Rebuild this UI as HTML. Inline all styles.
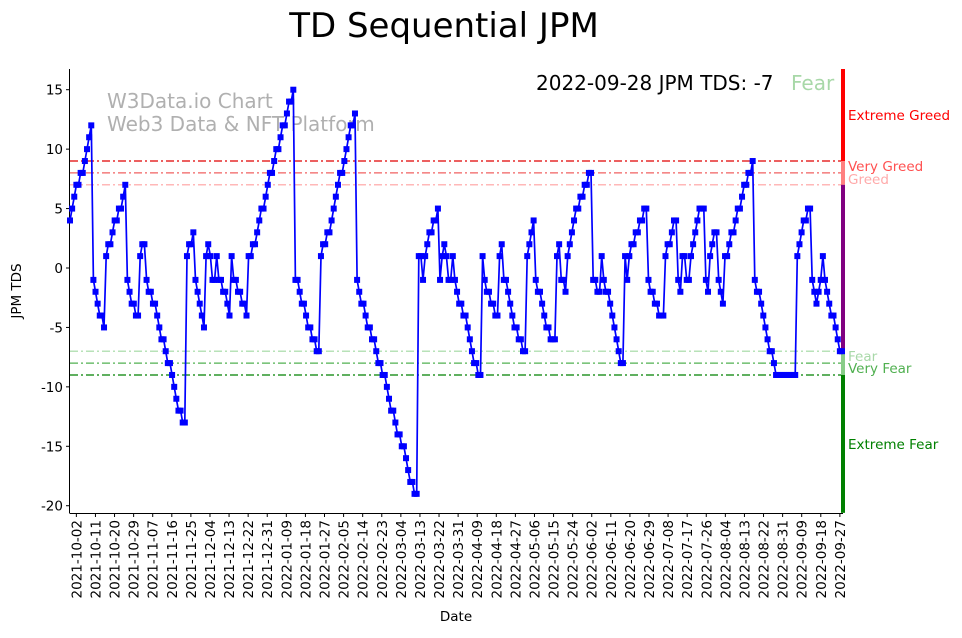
<!DOCTYPE html>
<html><head><meta charset="utf-8"><style>
body{margin:0;background:#fff;font-family:"Liberation Sans","DejaVu Sans",sans-serif;}
svg text{font-family:"DejaVu Sans","Liberation Sans",sans-serif;}
</style></head><body>
<svg id="chart" width="962" height="633" xmlns="http://www.w3.org/2000/svg"></svg>
<script>
const startDate = "2021-09-29";
const endDate = "2022-09-28";
const tdValues = [4,5,6,7,7,8,8,9,10,11,12,
-1,-2,-3,-4,-4,-5,
1,2,2,3,4,4,5,5,6,7,
-1,-2,-3,-3,-4,-4,
1,2,2,-1,-2,-2,-3,-3,-4,-5,-6,-6,-7,-8,-8,-9,-10,-11,-12,-12,-13,-13,
1,2,2,3,
-1,-2,-3,-4,-5,
1,2,1,-1,-1,1,-1,-1,-2,-2,-3,-4,
1,-1,-1,-2,-2,-3,-3,-4,
1,1,2,2,3,4,5,5,6,7,8,8,9,10,10,11,12,12,13,14,14,15,
-1,-1,-2,-3,-3,-4,-5,-5,-6,-6,-7,-7,
1,2,2,3,3,4,5,6,7,8,8,9,10,11,12,12,13,
-1,-2,-3,-3,-4,-5,-5,-6,-6,-7,-8,-8,-9,-9,-10,-11,-12,-12,-13,-14,-14,-15,-15,-16,-17,-18,-18,-19,-19,
1,1,-1,1,2,3,3,4,4,5,
-1,1,2,1,-1,-1,1,-1,-2,-3,-3,-4,-4,-5,-6,-7,-8,-8,-9,-9,
1,-1,-2,-2,-3,-3,-4,-4,
1,2,-1,-1,-2,-3,-4,-5,-5,-6,-6,-7,-7,
1,2,3,4,
-1,-2,-2,-3,-4,-5,-5,-6,-6,-6,
1,2,-1,-1,-2,
1,2,3,4,5,5,6,6,7,7,8,8,
-1,-1,-2,-2,1,-1,-2,-2,-3,-4,-5,-6,-7,-8,-8,
1,-1,1,2,2,3,3,4,4,5,5,
-1,-2,-2,-3,-3,-4,-4,-4,
1,2,2,3,4,4,
-1,-2,1,1,-1,-1,1,2,3,4,5,5,5,
-1,-2,1,2,3,3,
-1,-2,-3,1,1,2,3,3,4,5,5,6,7,7,8,8,9,
-1,-2,-2,-3,-4,-5,-6,-7,-7,-8,-9,-9,-9,-9,-9,-9,-9,-9,-9,-9,
1,2,3,4,4,5,5,
-1,-2,-3,-2,-1,1,-1,-2,-3,-4,-4,-5,-6,-7,-7];
const yTicks = [-20,-15,-10,-5,0,5,10,15];
const levelValues = [9,8,7,-7,-8,-9];

const NS="http://www.w3.org/2000/svg";
const svg=document.getElementById('chart');
const L=70,R=843,T=69,B=513;
const dayMs=86400000;
const d0=Date.parse(startDate), d1=Date.parse(endDate);
const nDays=(d1-d0)/dayMs;
function xDay(d){return L+(d/nDays)*(R-L-1);}
function xIdx(i){return xDay(i*nDays/(tdValues.length-1));}
function y(v){return 268-11.886*v;}
function el(t,a,p){const e=document.createElementNS(NS,t);for(const k in a)e.setAttribute(k,a[k]);(p||svg).appendChild(e);return e;}

let t=el('text',{x:444,y:37,'font-size':34,'text-anchor':'middle',fill:'#000'});t.textContent='TD Sequential JPM';



let w=el('text',{x:107,y:108,'font-size':20,fill:'#b0b0b0'});w.textContent='W3Data.io Chart';


w=el('text',{x:107,y:131,'font-size':20,fill:'#b0b0b0'});w.textContent='Web3 Data & NFT Platform';



const lvColors=['#e00000','#f06060','#ffa0a0','#a0d8a0','#50b050','#008000'];
levelValues.forEach((v,i)=>{
  const ln=el('line',{x1:L,x2:R,y1:y(v),y2:y(v),stroke:lvColors[i],'stroke-width':1.2,'stroke-dasharray':'8,3,2,3'});
  
  
});

const segs=[[17,9,'#ff0000'],[9,7,'#ff8080'],[7,-7,'#800080'],[-7,-9,'#88cc88'],[-9,-20.6,'#008000']];
segs.forEach(s=>{
  const r=el('rect',{x:841,y:Math.max(T,y(s[0])),width:4,height:y(s[1])-Math.max(T,y(s[0])),fill:s[2]});
  
  
});
const lbls=[['Extreme Greed',120,'#ff0000'],['Very Greed',171,'#ff5050'],['Greed',184,'#ffaaaa'],['Fear',361,'#a8d8a8'],['Very Fear',373,'#50b050'],['Extreme Fear',449,'#008000']];
lbls.forEach(a=>{
  const tx=el('text',{x:848,y:a[1],'font-size':13.5,fill:a[2]});tx.textContent=a[0];
  
  
});

let ax=el('line',{x1:L-0.5,x2:L-0.5,y1:T,y2:B,stroke:'#000','stroke-width':1});


ax=el('line',{x1:L-0.5,x2:R,y1:B+0.5,y2:B+0.5,stroke:'#000','stroke-width':1});


yTicks.forEach(v=>{
  el('line',{x1:L-4,x2:L,y1:y(v),y2:y(v),stroke:'#000'});
  const tx=el('text',{x:L-7,y:y(v)+5,'font-size':13.5,'text-anchor':'end'});tx.textContent=v;
  
  
});
for(let d=3; d<=nDays; d+=9){
  const x=xDay(d);
  el('line',{x1:x,x2:x,y1:B,y2:B+4,stroke:'#000'});
  const ds=new Date(d0+d*dayMs).toISOString().slice(0,10);
  const tx=el('text',{x:0,y:0,'font-size':13.5,'text-anchor':'end',transform:`translate(${x+5},${B+7}) rotate(-90)`});tx.textContent=ds;
  
  
}
let at=el('text',{x:456,y:621,'font-size':13.5,'text-anchor':'middle'});at.textContent='Date';


at=el('text',{x:0,y:0,'font-size':13.5,'text-anchor':'middle',transform:'translate(21,291) rotate(-90)'});at.textContent='JPM TDS';



const pts=tdValues.map((v,i)=>xIdx(i).toFixed(1)+','+y(v).toFixed(1)).join(' ');
const pl=el('polyline',{points:pts,fill:'none',stroke:'#0000ff','stroke-width':1.7});


tdValues.forEach((v,i)=>{
  const m=el('rect',{x:xIdx(i)-3,y:y(v)-3,width:6,height:6,fill:'#0000ff'});
  
  
});

let hd=el('text',{x:536,y:90,'font-size':20,fill:'#000'});hd.textContent='2022-09-28 JPM TDS: -7';


hd=el('text',{x:791,y:90,'font-size':20,fill:'#a8d8a8'});hd.textContent='Fear';


</script>
</body></html>
